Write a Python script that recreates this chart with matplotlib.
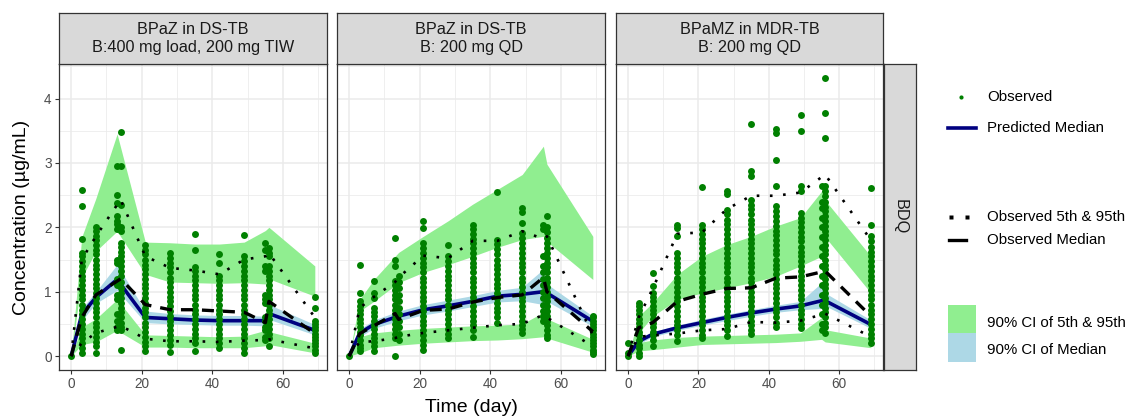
import numpy as np
import matplotlib
matplotlib.use("Agg")
import matplotlib.pyplot as plt
from matplotlib.patches import Rectangle

plt.rcParams['font.family'] = ['Liberation Sans', 'DejaVu Sans']

# ---- panel titles ----
panel_titles = ["BPaZ in DS-TB\nB:400 mg load, 200 mg TIW",
                "BPaZ in DS-TB\nB: 200 mg QD",
                "BPaMZ in MDR-TB\nB: 200 mg QD"]
row_label = "BDQ"

# ---- panel 1: simulated bands / predicted median ----
t1 = [0, 3, 7, 13, 21, 28, 35, 42, 49, 55, 56, 69]
pred1 = [0, 0.65, 0.91, 1.19, 0.60, 0.58, 0.56, 0.55, 0.55, 0.55, 0.66, 0.40]
med_lo1 = [0, 0.55, 0.82, 1.02, 0.52, 0.50, 0.49, 0.48, 0.48, 0.47, 0.57, 0.33]
med_hi1 = [0, 0.74, 1.00, 1.42, 0.70, 0.66, 0.64, 0.63, 0.63, 0.62, 0.80, 0.49]
p05_lo1 = [0, 0.18, 0.22, 0.40, 0.14, 0.14, 0.13, 0.13, 0.13, 0.16, 0.18, 0.05]
p05_hi1 = [0, 0.45, 0.58, 0.88, 0.33, 0.32, 0.31, 0.30, 0.31, 0.40, 0.38, 0.20]
p95_lo1 = [0, 1.22, 1.63, 1.94, 1.27, 1.15, 1.14, 1.13, 1.14, 1.12, 1.20, 0.93]
p95_hi1 = [0, 1.85, 2.45, 3.45, 1.77, 1.76, 1.74, 1.74, 1.77, 1.95, 2.00, 1.40]
# observed percentiles
ot1 = [0, 3, 7, 14, 21, 28, 35, 42, 49, 55, 56, 69]
q05_1 = [0, 0.20, 0.36, 0.47, 0.27, 0.23, 0.23, 0.22, 0.24, 0.25, 0.26, 0.12]
q50_1 = [0, 0.60, 0.95, 1.20, 0.80, 0.72, 0.72, 0.70, 0.68, 0.52, 0.85, 0.35]
q95_1 = [0, 1.50, 1.86, 2.43, 1.55, 1.37, 1.33, 1.27, 1.50, 1.55, 1.60, 0.60]
# observed concentrations
obs_days1 = [0, 3, 7, 13, 14, 21, 28, 35, 42, 49, 55, 56, 69]
obs_conc1 = [
    [0.0],
    [2.58, 2.33, 1.82, 1.60, 1.55, 1.48, 1.40, 1.32, 1.25, 1.18, 1.10, 1.02, 0.95, 0.88, 0.80,
     0.72, 0.65, 0.58, 0.50, 0.42, 0.35, 0.28, 0.20, 0.12, 0.05],
    [2.00, 1.94, 1.86, 1.80, 1.72, 1.65, 1.58, 1.50, 1.42, 1.35, 1.28, 1.20, 1.12, 1.05, 0.98,
     0.90, 0.82, 0.75, 0.68, 0.60, 0.52, 0.45, 0.38, 0.30, 0.22, 0.15, 0.05],
    [2.95, 2.50, 2.38, 2.17, 2.10, 2.05, 1.98, 1.50, 1.45, 1.20, 1.10, 0.95, 0.88, 0.65, 0.55,
     0.45, 0.40],
    [3.48, 2.95, 2.35, 2.00, 1.95, 1.75, 1.70, 1.62, 1.55, 1.48, 1.40, 1.32, 1.25, 1.15, 1.05,
     0.98, 0.90, 0.82, 0.75, 0.68, 0.60, 0.52, 0.45, 0.40, 0.10],
    [1.72, 1.65, 1.58, 1.50, 1.42, 1.35, 1.28, 1.20, 1.12, 1.05, 0.98, 0.90, 0.82, 0.75, 0.68,
     0.60, 0.52, 0.45, 0.38, 0.30, 0.22, 0.15, 0.08],
    [1.60, 1.52, 1.45, 1.38, 1.30, 1.22, 1.15, 1.08, 1.00, 0.92, 0.85, 0.78, 0.70, 0.62, 0.55,
     0.48, 0.40, 0.32, 0.25, 0.17, 0.07],
    [1.90, 1.65, 1.38, 1.32, 1.25, 1.18, 1.10, 1.02, 0.95, 0.88, 0.80, 0.72, 0.65, 0.58, 0.50,
     0.42, 0.35, 0.28, 0.20, 0.08],
    [1.58, 1.45, 1.25, 1.18, 1.10, 1.02, 0.95, 0.88, 0.80, 0.72, 0.65, 0.58, 0.50, 0.42, 0.35,
     0.28, 0.20, 0.12],
    [1.88, 1.55, 1.48, 1.40, 1.32, 1.25, 1.18, 1.10, 1.02, 0.95, 0.88, 0.80, 0.72, 0.65, 0.58,
     0.50, 0.42, 0.35, 0.28, 0.20, 0.12, 0.05],
    [1.75, 1.65, 1.40, 1.32, 0.95, 0.88, 0.82, 0.60, 0.55, 0.45, 0.40, 0.30, 0.25],
    [1.68, 1.60, 1.55, 1.40, 1.32, 1.25, 1.18, 1.10, 1.02, 0.95, 0.88, 0.80, 0.72, 0.65, 0.58,
     0.50, 0.42, 0.35, 0.28, 0.15],
    [0.92, 0.75, 0.55, 0.50, 0.45, 0.40, 0.35, 0.30, 0.25, 0.20, 0.15, 0.10, 0.05],
]

# ---- panel 2 ----
t2 = [0, 3, 7, 14, 21, 28, 35, 42, 49, 55, 56, 69]
pred2 = [0, 0.36, 0.49, 0.62, 0.72, 0.78, 0.85, 0.93, 0.96, 1.00, 0.98, 0.54]
med_lo2 = [0, 0.30, 0.43, 0.55, 0.64, 0.70, 0.77, 0.84, 0.86, 0.80, 0.85, 0.46]
med_hi2 = [0, 0.42, 0.56, 0.70, 0.80, 0.87, 0.94, 1.02, 1.07, 1.35, 1.12, 0.62]
p05_lo2 = [0, 0.05, 0.13, 0.17, 0.20, 0.22, 0.24, 0.25, 0.27, 0.30, 0.28, 0.06]
p05_hi2 = [0, 0.30, 0.36, 0.40, 0.43, 0.45, 0.47, 0.48, 0.50, 0.68, 0.58, 0.26]
p95_lo2 = [0, 0.70, 0.85, 1.14, 1.30, 1.42, 1.55, 1.69, 1.81, 1.86, 1.78, 1.19]
p95_hi2 = [0, 0.88, 1.19, 1.61, 1.86, 2.10, 2.36, 2.59, 2.82, 3.26, 2.98, 1.86]
ot2 = [0, 3, 7, 13, 14, 21, 28, 35, 42, 49, 55, 56, 69]
q05_2 = [0, 0.22, 0.23, 0.28, 0.30, 0.36, 0.40, 0.44, 0.48, 0.50, 0.64, 0.60, 0.15]
q50_2 = [0, 0.35, 0.47, 0.66, 0.57, 0.71, 0.73, 0.84, 0.91, 0.95, 1.22, 1.00, 0.38]
q95_2 = [0, 0.75, 0.92, 1.15, 1.22, 1.56, 1.52, 1.79, 1.79, 1.94, 1.82, 1.86, 0.32]
obs_days2 = [0, 3, 7, 13, 14, 21, 28, 35, 42, 49, 55, 56, 69]
obs_conc2 = [
    [0.0],
    [1.42, 0.98, 0.85, 0.78, 0.72, 0.65, 0.58, 0.52, 0.45, 0.38, 0.32, 0.25, 0.18, 0.12, 0.08],
    [1.17, 0.98, 0.90, 0.74, 0.68, 0.62, 0.55, 0.48, 0.42, 0.35, 0.28, 0.22, 0.15, 0.08],
    [1.84, 1.50, 1.40, 1.17, 1.10, 1.02, 0.95, 0.88, 0.80, 0.72, 0.65, 0.58, 0.50, 0.42, 0.35,
     0.28, 0.0],
    [1.25, 1.15, 1.05, 0.95, 0.85, 0.75, 0.65, 0.55, 0.45, 0.35, 0.25],
    [2.10, 1.99, 1.76, 1.68, 1.60, 1.52, 1.45, 1.38, 1.30, 1.22, 1.15, 1.08, 1.00, 0.92, 0.85,
     0.78, 0.70, 0.62, 0.55, 0.48, 0.40, 0.32, 0.25, 0.18, 0.10],
    [1.73, 1.55, 1.48, 1.40, 1.32, 1.25, 1.18, 1.10, 1.02, 0.95, 0.88, 0.80, 0.72, 0.65, 0.58,
     0.50, 0.42, 0.35, 0.28],
    [2.04, 1.97, 1.90, 1.82, 1.75, 1.68, 1.60, 1.52, 1.45, 1.38, 1.30, 1.22, 1.15, 1.08, 1.00,
     0.92, 0.85, 0.78, 0.70, 0.62, 0.55, 0.48, 0.40, 0.30],
    [2.55, 1.81, 1.74, 1.66, 1.58, 1.50, 1.42, 1.35, 1.28, 1.20, 1.12, 1.05, 0.98, 0.90, 0.82,
     0.75, 0.68, 0.60, 0.52],
    [2.30, 2.23, 2.07, 1.91, 1.84, 1.76, 1.68, 1.60, 1.52, 1.45, 1.38, 1.30, 1.22, 1.15, 1.08,
     1.00, 0.92, 0.85, 0.78, 0.70, 0.62, 0.55, 0.48, 0.42, 0.36],
    [2.04, 1.98, 1.55, 1.40, 1.30, 1.20, 1.10, 1.00, 0.90, 0.80, 0.70, 0.62, 0.55],
    [2.17, 2.00, 1.92, 1.84, 1.76, 1.68, 1.60, 1.52, 1.45, 1.38, 1.30, 1.22, 1.15, 1.08, 1.00,
     0.92, 0.85, 0.78, 0.70, 0.62, 0.55, 0.48, 0.40, 0.33, 0.28],
    [0.62, 0.60, 0.55, 0.50, 0.45, 0.40, 0.35, 0.30, 0.25, 0.20, 0.15, 0.10, 0.06, 0.03],
]

# ---- panel 3 ----
t3 = [0, 3, 7, 14, 21, 28, 35, 42, 49, 55, 56, 69]
pred3 = [0, 0.23, 0.34, 0.44, 0.52, 0.60, 0.67, 0.73, 0.78, 0.86, 0.86, 0.49]
med_lo3 = [0, 0.19, 0.30, 0.40, 0.48, 0.55, 0.62, 0.68, 0.72, 0.74, 0.78, 0.43]
med_hi3 = [0, 0.27, 0.38, 0.48, 0.57, 0.65, 0.72, 0.79, 0.85, 1.14, 0.98, 0.56]
p05_lo3 = [0, 0.08, 0.10, 0.14, 0.18, 0.19, 0.20, 0.21, 0.23, 0.26, 0.22, 0.13]
p05_hi3 = [0, 0.21, 0.25, 0.29, 0.31, 0.32, 0.33, 0.34, 0.36, 0.60, 0.41, 0.28]
p95_lo3 = [0, 0.36, 0.62, 0.88, 0.98, 1.06, 1.14, 1.24, 1.40, 1.55, 1.85, 0.98]
p95_hi3 = [0, 0.62, 0.83, 1.27, 1.55, 1.73, 1.86, 2.02, 2.15, 2.56, 2.42, 1.55]
ot3 = [0, 3, 7, 14, 21, 28, 35, 42, 49, 56, 69]
q05_3 = [0, 0.30, 0.32, 0.35, 0.40, 0.42, 0.53, 0.52, 0.55, 0.66, 0.30]
q50_3 = [0, 0.44, 0.52, 0.85, 0.96, 1.05, 1.06, 1.21, 1.23, 1.32, 0.62]
q95_3 = [0, 0.60, 1.05, 1.90, 1.92, 2.28, 2.49, 2.49, 2.54, 2.82, 1.80]
obs_days3 = [0, 3, 7, 14, 21, 28, 35, 42, 49, 55, 56, 69]
obs_conc3 = [
    [0.0, 0.05, 0.20],
    [0.83, 0.78, 0.72, 0.65, 0.58, 0.52, 0.45, 0.38, 0.32, 0.25, 0.18, 0.12, 0.05, 0.0],
    [1.29, 1.09, 0.98, 0.92, 0.85, 0.78, 0.72, 0.65, 0.58, 0.52, 0.45, 0.38, 0.32, 0.25, 0.15],
    [2.04, 1.99, 1.86, 1.60, 1.53, 1.45, 1.38, 1.30, 1.22, 1.15, 1.08, 1.00, 0.92, 0.85, 0.78,
     0.70, 0.62, 0.55, 0.48, 0.40, 0.32, 0.23],
    [2.62, 2.04, 1.97, 1.90, 1.82, 1.75, 1.68, 1.60, 1.52, 1.45, 1.38, 1.30, 1.22, 1.15, 1.08,
     1.00, 0.92, 0.85, 0.78, 0.70, 0.62, 0.55, 0.48, 0.40, 0.33, 0.28],
    [2.56, 2.51, 2.27, 2.20, 2.12, 2.05, 1.98, 1.90, 1.82, 1.75, 1.68, 1.60, 1.52, 1.45, 1.38,
     1.30, 1.22, 1.15, 1.08, 1.00, 0.92, 0.85, 0.78, 0.70, 0.62, 0.55, 0.48, 0.40, 0.31],
    [3.60, 2.87, 2.79, 2.43, 2.35, 2.28, 2.20, 2.12, 2.05, 1.98, 1.90, 1.82, 1.75, 1.68, 1.60,
     1.52, 1.45, 1.38, 1.30, 1.22, 1.15, 1.08, 1.00, 0.92, 0.85, 0.78, 0.70, 0.62, 0.55, 0.48,
     0.40, 0.34],
    [3.52, 3.46, 3.05, 2.64, 2.33, 2.25, 2.18, 2.10, 2.02, 1.95, 1.88, 1.80, 1.72, 1.65, 1.58,
     1.50, 1.42, 1.35, 1.28, 1.20, 1.12, 1.05, 0.98, 0.90, 0.82, 0.75, 0.68, 0.60, 0.52, 0.45],
    [3.75, 3.49, 2.64, 2.56, 2.22, 2.15, 2.08, 2.00, 1.92, 1.85, 1.78, 1.70, 1.62, 1.55, 1.48,
     1.40, 1.32, 1.25, 1.18, 1.10, 1.02, 0.95, 0.88, 0.80, 0.72, 0.65, 0.58, 0.50, 0.44],
    [2.64, 2.40, 2.30, 2.15, 2.00, 1.85, 1.70, 1.55, 1.40, 1.25, 1.10, 0.95, 0.80, 0.65, 0.50,
     0.40],
    [4.32, 3.78, 3.39, 2.64, 2.56, 2.48, 2.40, 2.32, 2.25, 2.18, 2.10, 2.02, 1.95, 1.88, 1.80,
     1.72, 1.65, 1.58, 1.50, 1.42, 1.35, 1.28, 1.20, 1.12, 1.05, 0.98, 0.90, 0.82, 0.75, 0.68,
     0.60, 0.52, 0.45, 0.36],
    [2.61, 2.04, 1.86, 1.78, 1.70, 1.62, 1.55, 1.48, 1.40, 1.32, 1.25, 1.18, 1.10, 1.02, 0.95,
     0.88, 0.80, 0.72, 0.65, 0.58, 0.50, 0.42, 0.35, 0.28, 0.21],
]

# ---- legend ----
legend_labels = ["Observed", "Predicted Median", "Observed 5th & 95th", "Observed Median",
                 "90% CI of 5th & 95th", "90% CI of Median"]

GREEN_PT = '#008000'
GREEN_BAND = '#90EE90'
BLUE_BAND = '#ADD8E6'
NAVY = '#000080'
GRID = '#EBEBEB'
BORDER = '#333333'

W, H = 1133, 419


def fig_rect(x0, y0, x1, y1):
    # pixel box (top-left origin) -> figure fraction
    return [x0 / W, 1 - y1 / H, (x1 - x0) / W, (y1 - y0) / H]


def draw_panel(ax, t, pred, mlo, mhi, p5lo, p5hi, p95lo, p95hi,
               days, conc, ot, q05, q50, q95):
    ax.fill_between(t, p95lo, p95hi, color=GREEN_BAND, lw=0, zorder=1)
    ax.fill_between(t, p5lo, p5hi, color=GREEN_BAND, lw=0, zorder=1)
    ax.fill_between(t, mlo, mhi, color=BLUE_BAND, lw=0, zorder=2)
    ax.plot(t, pred, color=NAVY, lw=2.6, zorder=3, solid_capstyle='butt')
    xs, ys = [], []
    for d, vals in zip(days, conc):
        xs += [d] * len(vals)
        ys += vals
    ax.scatter(xs, ys, s=25, color=GREEN_PT, linewidths=0, zorder=4)
    ax.plot(ot, q05, color='black', lw=1.9, ls=(0, (1, 4)), zorder=5)
    ax.plot(ot, q95, color='black', lw=1.9, ls=(0, (1, 4)), zorder=5)
    ax.plot(ot, q50, color='black', lw=2.4, ls=(0, (3.6, 2.7)), zorder=5)

    ax.set_xlim(-3.45, 72.45)
    ax.set_ylim(-0.216, 4.536)
    ax.set_xticks([0, 20, 40, 60])
    ax.set_xticks([10, 30, 50, 70], minor=True)
    ax.set_yticks([0, 1, 2, 3, 4])
    ax.set_yticks([0.5, 1.5, 2.5, 3.5, 4.5], minor=True)
    ax.grid(which='major', color=GRID, lw=1.1, zorder=0)
    ax.grid(which='minor', color=GRID, lw=0.55, zorder=0)
    ax.set_axisbelow(True)
    for s in ax.spines.values():
        s.set_color(BORDER)
        s.set_linewidth(0.9)
        s.set_zorder(6)
    ax.tick_params(which='major', direction='out', length=2.8, width=0.8, color=BORDER,
                   labelcolor='#4D4D4D', labelsize=9.8, pad=2.5)
    ax.tick_params(which='minor', length=0)


fig = plt.figure(figsize=(W / 100, H / 100), dpi=100)

panels = [
    (59, 327, t1, pred1, med_lo1, med_hi1, p05_lo1, p05_hi1, p95_lo1, p95_hi1,
     obs_days1, obs_conc1, ot1, q05_1, q50_1, q95_1),
    (337, 605, t2, pred2, med_lo2, med_hi2, p05_lo2, p05_hi2, p95_lo2, p95_hi2,
     obs_days2, obs_conc2, ot2, q05_2, q50_2, q95_2),
    (616, 883, t3, pred3, med_lo3, med_hi3, p05_lo3, p05_hi3, p95_lo3, p95_hi3,
     obs_days3, obs_conc3, ot3, q05_3, q50_3, q95_3),
]

for i, p in enumerate(panels):
    x0, x1 = p[0], p[1]
    ax = fig.add_axes(fig_rect(x0, 64, x1, 370))
    draw_panel(ax, *p[2:])
    if i > 0:
        ax.tick_params(axis='y', left=False, labelleft=False)

    # strip on top
    sax = fig.add_axes(fig_rect(x0, 13, x1, 64))
    sax.set_facecolor('#D9D9D9')
    sax.set_xticks([])
    sax.set_yticks([])
    for s in sax.spines.values():
        s.set_color(BORDER)
        s.set_linewidth(0.9)
    sax.text(0.5, 0.5, panel_titles[i], ha='center', va='center', fontsize=11.7,
             color='#1A1A1A', transform=sax.transAxes, linespacing=1.2)

# right strip
rax = fig.add_axes(fig_rect(884, 64, 916, 370))
rax.set_facecolor('#D9D9D9')
rax.set_xticks([])
rax.set_yticks([])
for s in rax.spines.values():
    s.set_color(BORDER)
    s.set_linewidth(0.9)
rax.text(0.5, 0.5, row_label, ha='center', va='center', rotation=-90, fontsize=11.7,
         color='#1A1A1A', transform=rax.transAxes)

# axis titles
fig.text(22 / W, 1 - 217 / H, "Concentration (µg/mL)", rotation=90, ha='center', va='center',
         fontsize=14, color='black')
fig.text(471 / W, 1 - 407 / H, "Time (day)", ha='center', va='center', fontsize=14,
         color='black')

# legend drawn on an overlay in pixel coordinates
lax = fig.add_axes([0, 0, 1, 1])
lax.set_xlim(0, W)
lax.set_ylim(H, 0)
lax.axis('off')
text_x = 987
ys = [97, 128, 217, 240, 323, 350]
lax.plot([961], [ys[0]], 'o', ms=3, color=GREEN_PT, mec='none')
lax.plot([948, 976], [ys[1], ys[1]], color=NAVY, lw=2.6)
lax.plot([951, 967], [ys[2], ys[2]], 's', ms=2.3, color='black', mec='none')
lax.plot([949, 966], [ys[3], ys[3]], color='black', lw=2.4)
lax.add_patch(Rectangle((948, 305), 28, 28, color=GREEN_BAND, lw=0))
lax.add_patch(Rectangle((948, 333), 28, 29, color=BLUE_BAND, lw=0))
for y, lab in zip(ys, legend_labels):
    lax.text(text_x, y, lab, ha='left', va='center', fontsize=10.8, color='black')

fig.savefig("out.png", dpi=100)
